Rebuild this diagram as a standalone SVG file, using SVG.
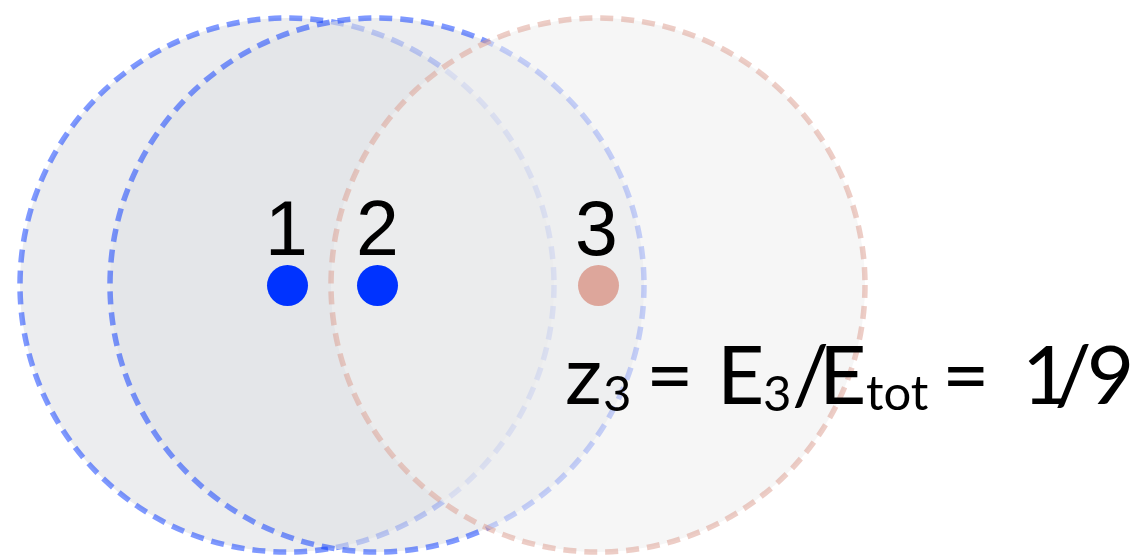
<svg xmlns="http://www.w3.org/2000/svg" width="1132" height="555" viewBox="0 0 1132 555">
<style>
.blue{fill:#dfe1e5;fill-opacity:0.6;stroke:#0033ff;stroke-opacity:0.5;stroke-width:5.5;stroke-dasharray:13 8}
.red{fill:#f0f0f0;fill-opacity:0.6;stroke:#dc9c8e;stroke-opacity:0.5;stroke-width:5.5;stroke-dasharray:13 8}
.lbl{font-family:"Liberation Sans",Arial,sans-serif;font-size:77px;fill:#000}
.eq{font-family:Lato,"Open Sans",sans-serif;font-size:82px;fill:#000}
.sub{font-size:49px}
</style>
<rect width="1132" height="555" fill="#ffffff"/>
<g id="region1"><circle class="blue" cx="287" cy="285" r="267"/></g>
<g id="region2"><circle class="blue" cx="377" cy="285" r="267"/></g>
<g id="region3"><circle class="red" cx="598" cy="285" r="267"/></g>
<g id="node1"><circle cx="287.5" cy="285.5" r="20.5" fill="#0033ff"/><text class="lbl" x="265" y="255">1</text></g>
<g id="node2"><circle cx="377.5" cy="285.5" r="20.5" fill="#0033ff"/><text class="lbl" x="356" y="255">2</text></g>
<g id="node3"><circle cx="598.5" cy="285.5" r="20.5" fill="#dda69b"/><text class="lbl" x="575" y="255">3</text></g>
<g id="connectors"></g>
<g id="equation">
<text class="eq" y="404"><tspan x="565">z</tspan><tspan class="sub" x="603" y="411">3</tspan><tspan x="646" y="404">=</tspan><tspan x="717">E</tspan><tspan class="sub" x="763" y="411">3</tspan><tspan x="792" y="404" dx="0 -10">/E</tspan><tspan class="sub" x="866" y="410">tot</tspan><tspan x="942" y="404">=</tspan><tspan x="1022" dx="0 -15 -5">1/9</tspan></text>
</g>
</svg>
